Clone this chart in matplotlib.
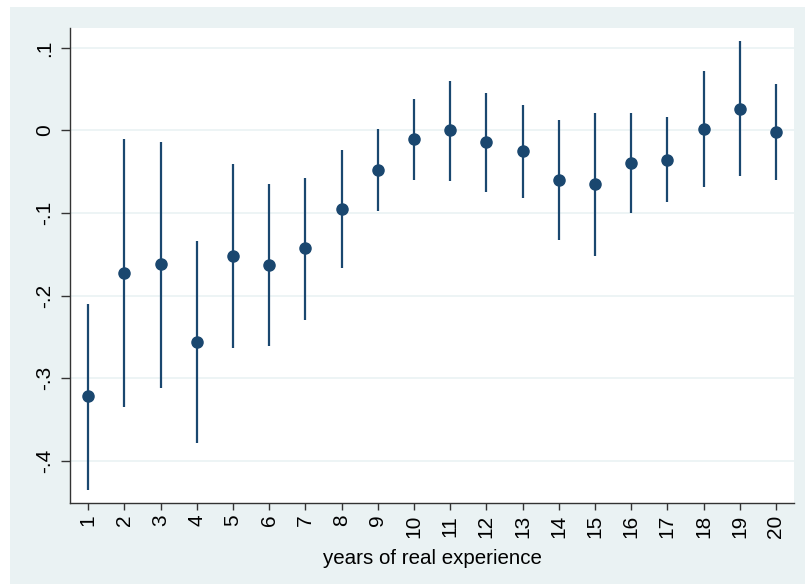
import matplotlib
matplotlib.use("Agg")
import matplotlib.pyplot as plt
from matplotlib.patches import Rectangle

years = list(range(1, 21))
estimate = [-0.322, -0.172, -0.162, -0.256, -0.1515, -0.163, -0.142, -0.0955, -0.048, -0.0104,
            0.000, -0.0145, -0.025, -0.060, -0.065, -0.0395, -0.036, 0.002, 0.026, -0.0016]
ci_upper = [-0.2096, -0.0104, -0.014, -0.134, -0.041, -0.065, -0.058, -0.024, 0.002, 0.038,
            0.060, 0.045, 0.031, 0.013, 0.021, 0.021, 0.0157, 0.072, 0.108, 0.056]
ci_lower = [-0.435, -0.335, -0.312, -0.378, -0.263, -0.261, -0.229, -0.166, -0.098, -0.0596,
            -0.061, -0.074, -0.082, -0.133, -0.1515, -0.100, -0.087, -0.068, -0.0556, -0.0596]
y_ticks = [-0.4, -0.3, -0.2, -0.1, 0.0, 0.1]
y_ticklabels = ["-.4", "-.3", "-.2", "-.1", "0", ".1"]
x_label = "years of real experience"

plt.rcParams['font.family'] = ['Liberation Sans', 'DejaVu Sans']

W, H = 805, 585
fig = plt.figure(figsize=(W / 100, H / 100), dpi=100, facecolor="white")
bg = "#EAF2F3"
fig.patches.append(Rectangle((10 / W, 1 - 584 / H), (805 - 10) / W, (584 - 7) / H,
                             transform=fig.transFigure, facecolor=bg, edgecolor="none", zorder=-5))

ax = fig.add_axes([70 / W, 1 - 503 / H, (794 - 70) / W, (503 - 28) / H], zorder=1)
ax.set_facecolor("white")
navy = "#1A476F"

ax.vlines(years, ci_lower, ci_upper, color=navy, linewidth=1.6, zorder=3)
ax.plot(years, estimate, "o", color=navy, markersize=8, zorder=4)

ax.set_xlim(0.5, 20.5)
ax.set_ylim(-0.451, 0.124)
ax.set_yticks(y_ticks)
ax.set_yticklabels(y_ticklabels, rotation=90, va="center")
ax.set_xticks(years)
ax.set_xticklabels([str(y) for y in years], rotation=90)
ax.tick_params(axis="both", labelsize=15, width=1, color="#333333", direction="out")
ax.tick_params(axis="y", pad=5, length=6.5)
ax.tick_params(axis="x", pad=3.5, length=5)
ax.grid(axis="y", color=bg, linewidth=1.2, zorder=1)
ax.set_axisbelow(True)
for s in ["top", "right"]:
    ax.spines[s].set_visible(False)
for s in ["left", "bottom"]:
    ax.spines[s].set_color("#333333")
    ax.spines[s].set_linewidth(1)
ax.set_xlabel(x_label, fontsize=14.8, labelpad=8)

fig.savefig("out.png", dpi=100, facecolor="white")
